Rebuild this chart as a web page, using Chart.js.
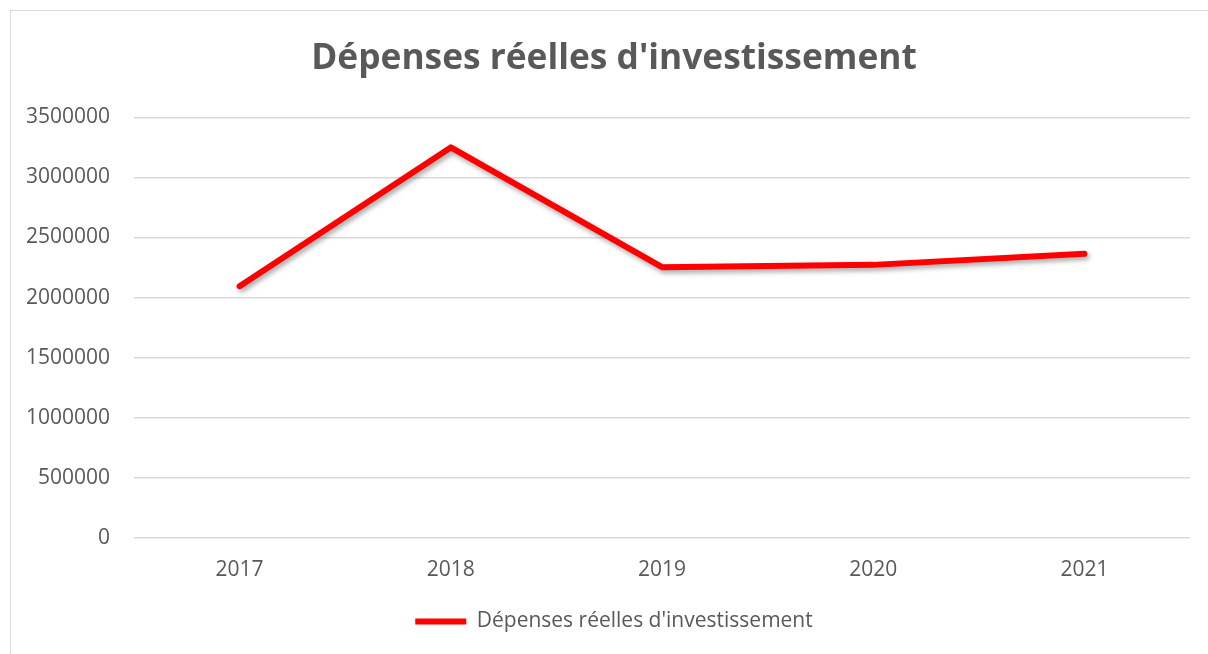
<!DOCTYPE html>
<html>
<head>
<meta charset="utf-8">
<script src="https://cdn.jsdelivr.net/npm/chart.js@4/dist/chart.umd.min.js"></script>
<style>
  html, body { margin: 0; padding: 0; background: #fff; overflow: hidden; }
  #frame { position: absolute; left: 10px; top: 10px; width: 1208px; height: 680px; border: 1px solid #d9d9d9; }
  #wrap { position: absolute; left: 0; top: 0; width: 1228px; height: 654px; }
</style>
</head>
<body>
<div id="frame"></div>
<div id="wrap"><canvas id="chart" width="1228" height="654"></canvas></div>
<script>
// données
const years = ['2017', '2018', '2019', '2020', '2021'];
const depenses = [2095000, 3250000, 2253000, 2272000, 2364000];
const seriesName = "Dépenses réelles d'investissement";

const grey = '#595959';
const font = "'Open Sans', sans-serif";

// ombre portée sous la courbe
const shadowPlugin = {
  id: 'lineShadow',
  beforeDatasetDraw(chart) {
    const ctx = chart.ctx;
    ctx.save();
    ctx.shadowColor = 'rgba(0,0,0,0.35)';
    ctx.shadowBlur = 5;
    ctx.shadowOffsetX = 2;
    ctx.shadowOffsetY = 3;
  },
  afterDatasetDraw(chart) {
    chart.ctx.restore();
  }
};

new Chart(document.getElementById('chart').getContext('2d'), {
  type: 'line',
  data: {
    labels: years,
    datasets: [{
      label: seriesName,
      data: depenses,
      borderColor: '#ff0000',
      backgroundColor: '#ff0000',
      borderWidth: 6,
      borderCapStyle: 'round',
      borderJoinStyle: 'round',
      pointRadius: 0,
      pointHoverRadius: 0,
      tension: 0,
      fill: false
    }]
  },
  options: {
    responsive: false,
    animation: false,
    layout: { padding: { top: 38, left: 10, right: 10, bottom: 12 } },
    plugins: {
      title: {
        display: true,
        text: seriesName,
        color: grey,
        font: { family: font, size: 35.3, weight: 'bold' },
        padding: { top: 0, bottom: 37 }
      },
      legend: {
        position: 'bottom',
        labels: {
          color: grey,
          font: { family: font, size: 21 },
          usePointStyle: true,
          pointStyle: 'line',
          pointStyleWidth: 51,
          padding: 10
        }
      },
      tooltip: { enabled: false }
    },
    scales: {
      x: {
        offset: true,
        grid: { display: false },
        border: { display: false },
        ticks: { color: grey, font: { family: font, size: 21 }, padding: 12 },
        afterFit(scale) { scale.height += 6; }
      },
      y: {
        min: 0,
        max: 3500000,
        ticks: {
          stepSize: 500000,
          color: grey,
          font: { family: font, size: 21 },
          padding: 24,
          callback: v => String(v)
        },
        grid: { color: '#d9d9d9', lineWidth: 1.5, drawTicks: false },
        border: { display: false },
        afterFit(scale) { scale.width = 124; }
      },
      // marge droite vide (le cadre du graphique dépasse la fenêtre)
      yRight: {
        position: 'right',
        min: 0,
        max: 1,
        ticks: { display: false },
        grid: { display: false },
        border: { display: false },
        afterFit(scale) { scale.width = 28; }
      }
    }
  },
  plugins: [shadowPlugin]
});
</script>
</body>
</html>
